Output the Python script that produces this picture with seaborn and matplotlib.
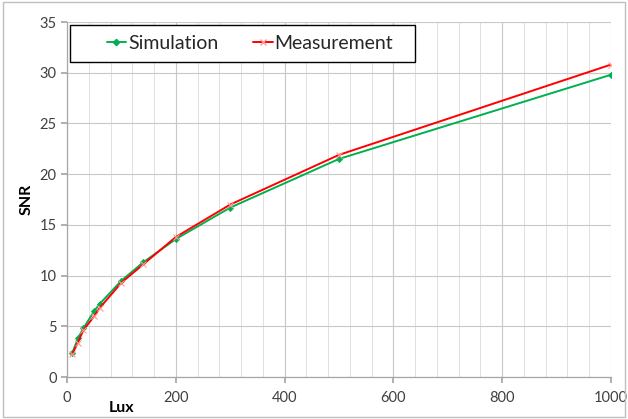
import matplotlib
matplotlib.use("Agg")
import matplotlib.pyplot as plt
import seaborn as sns
import pandas as pd
from matplotlib.patches import Rectangle
from matplotlib.lines import Line2D

lux = [10, 20, 30, 50, 60, 100, 140, 200, 300, 500, 1000]
simulation = [2.4, 3.8, 4.8, 6.5, 7.2, 9.5, 11.3, 13.6, 16.7, 21.5, 29.8]
measurement = [2.3, 3.4, 4.6, 6.0, 6.8, 9.3, 11.1, 13.8, 17.0, 21.9, 30.8]
x_ticks = [0, 200, 400, 600, 800, 1000]
y_ticks = [0, 5, 10, 15, 20, 25, 30, 35]

sim_df = pd.DataFrame({"Lux": lux, "SNR": simulation})
meas_df = pd.DataFrame({"Lux": lux, "SNR": measurement})

sns.set_theme(style="white")
plt.rcParams["font.family"] = ["Lato", "DejaVu Sans"]

fig = plt.figure(figsize=(6.28, 4.19), dpi=100)
ax = fig.add_axes([67 / 628, 1 - 377 / 419, (611 - 67) / 628, (377 - 22) / 419])

GREEN = "#00B050"
RED = "#FF0000"
sns.lineplot(data=meas_df, x="Lux", y="SNR", color=RED, marker="x",
             markersize=4, markeredgecolor="#FF9999", markeredgewidth=0.8,
             linewidth=1.4, ax=ax, zorder=3)
sns.lineplot(data=sim_df, x="Lux", y="SNR", color=GREEN, marker="D",
             markersize=3.2, markeredgecolor=GREEN, markeredgewidth=0.5,
             linewidth=1.4, ax=ax, zorder=2)

ax.set_xlim(0, 1000)
ax.set_ylim(0, 35)
ax.set_xticks(x_ticks)
ax.set_xticks([v for v in range(0, 1001, 40)], minor=True)
ax.set_yticks(y_ticks)
ax.grid(True, which="major", axis="both", color="#C8C8C8", linewidth=0.8)
ax.grid(True, which="minor", axis="x", color="#E0E0E0", linewidth=0.7)
ax.set_axisbelow(True)
for s in ["top", "right"]:
    ax.spines[s].set_visible(False)
for s in ["left", "bottom"]:
    ax.spines[s].set_color("#A6A6A6")
    ax.spines[s].set_linewidth(0.9)
ax.tick_params(axis="both", which="major", labelsize=10.5, colors="#404040",
               length=4, direction="out", bottom=True, left=True, color="#A6A6A6")
ax.tick_params(axis="x", which="major", pad=6)
ax.tick_params(axis="x", which="minor", length=0)
ax.set_xlabel("Lux", fontsize=11.5, fontweight="bold", color="#000000")
ax.set_ylabel("SNR", fontsize=11.5, fontweight="bold", color="#000000")
ax.xaxis.set_label_coords(0.1, -0.068)
ax.yaxis.set_label_coords(-0.062, 0.5)

# legend box
bx0, bx1, by0, by1 = 70, 415, 25, 62
fig.patches.append(Rectangle((bx0 / 628, 1 - by1 / 419), (bx1 - bx0) / 628, (by1 - by0) / 419,
                             transform=fig.transFigure, facecolor="white",
                             edgecolor="#000000", linewidth=1.0, zorder=5))
handles = [
    Line2D([], [], color=GREEN, marker="D", markersize=3.2, linewidth=1.4),
    Line2D([], [], color=RED, marker="x", markersize=4, linewidth=1.4,
           markeredgecolor="#FF9999"),
]
leg = fig.legend(handles, ["Simulation", "Measurement"], loc="center",
                 bbox_to_anchor=((bx0 + bx1) / 2 / 628 + 0.012, 1 - (by0 + by1) / 2 / 419),
                 bbox_transform=fig.transFigure, ncol=2,
                 fontsize=14, frameon=False, borderaxespad=0,
                 handlelength=1.0, handletextpad=0.1, columnspacing=1.8,
                 borderpad=0.0)
leg.set_zorder(6)

fig.patches.append(Rectangle((0.004, 0.004), 0.992, 0.992, transform=fig.transFigure,
                             fill=False, edgecolor="#BFBFBF", linewidth=1.0))

fig.savefig("out.png", dpi=100)
